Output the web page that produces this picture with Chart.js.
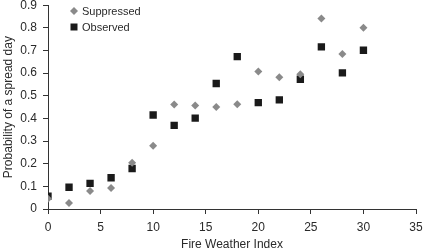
<!DOCTYPE html>
<html>
<head>
<meta charset="utf-8">
<script src="https://cdn.jsdelivr.net/npm/chart.js@4/dist/chart.umd.min.js"></script>
<style>
html,body{margin:0;padding:0;background:#fff;}
#wrap{width:424px;height:251px;position:relative;}
</style>
</head>
<body>
<div id="wrap"><canvas id="c" width="424" height="251"></canvas></div>
<script>
const fwi = [0, 2, 4, 6, 8, 10, 12, 14, 16, 18, 20, 22, 24, 26, 28, 30];
const suppressed = [0.045, 0.026, 0.079, 0.093, 0.204, 0.279, 0.462, 0.457, 0.450, 0.463, 0.607, 0.582, 0.595, 0.841, 0.685, 0.800];
const observed = [0.057, 0.096, 0.113, 0.138, 0.179, 0.415, 0.369, 0.401, 0.554, 0.673, 0.470, 0.482, 0.573, 0.716, 0.601, 0.701];
const seriesNames = ["Suppressed", "Observed"];
const xTitle = "Fire Weather Index";
const yTitle = "Probability of a spread day";

const FONT = "'Liberation Sans', Arial, sans-serif";
const AXIS = "#333333";
const TXT = "#2a2a2a";

const legendPlugin = {
  id: 'insideLegend',
  afterDraw(chart) {
    const ctx = chart.ctx;
    ctx.save();
    ctx.font = "11px " + FONT;
    ctx.textBaseline = "middle";
    ctx.textAlign = "left";
    chart.data.datasets.forEach((ds, i) => {
      const x = 74, y = 11 + i * 16;
      ctx.fillStyle = ds.backgroundColor;
      ctx.beginPath();
      if (ds.pointStyle === 'rectRot') {
        const r = 4;
        ctx.moveTo(x, y - r); ctx.lineTo(x + r, y); ctx.lineTo(x, y + r); ctx.lineTo(x - r, y);
        ctx.closePath();
      } else {
        ctx.rect(x - 3.5, y - 3.5, 7, 7);
      }
      ctx.fill();
      ctx.fillStyle = TXT;
      ctx.fillText(ds.label, 82, y + 0.5);
    });
    ctx.restore();
  }
};

new Chart(document.getElementById('c'), {
  type: 'scatter',
  data: {
    datasets: [
      {
        label: seriesNames[0],
        data: fwi.map((x, i) => ({x: x, y: suppressed[i]})),
        pointStyle: 'rectRot',
        pointRadius: 4,
        backgroundColor: '#8a8a8a',
        borderColor: '#8a8a8a',
        borderWidth: 0
      },
      {
        label: seriesNames[1],
        data: fwi.map((x, i) => ({x: x, y: observed[i]})),
        pointStyle: 'rect',
        pointRadius: 5.2,
        backgroundColor: '#1a1a1a',
        borderColor: '#1a1a1a',
        borderWidth: 0
      }
    ]
  },
  options: {
    responsive: false,
    animation: false,
    devicePixelRatio: 1,
    layout: { padding: { left: 0, right: 8, top: 5, bottom: 0 } },
    plugins: { legend: { display: false }, tooltip: { enabled: false } },
    scales: {
      x: {
        type: 'linear',
        min: 0, max: 35,
        ticks: { stepSize: 5, color: TXT, font: { family: FONT, size: 12 }, padding: 6, maxRotation: 0 },
        grid: { display: true, drawOnChartArea: false, drawTicks: true, tickLength: 5, color: AXIS, lineWidth: 1 },
        border: { display: true, color: AXIS, width: 1 },
        title: { display: true, text: xTitle, color: TXT, font: { family: FONT, size: 12, lineHeight: 1 }, padding: { top: 4, bottom: 0 } },
        afterFit(scale) { scale.height = 42; scale.paddingLeft = 0; scale.paddingRight = 0; scale.paddingTop = 0; scale.paddingBottom = 0; }
      },
      y: {
        type: 'linear',
        min: 0, max: 0.9,
        ticks: { stepSize: 0.1, color: TXT, font: { family: FONT, size: 12 }, padding: 6,
          callback: v => (Math.round(v * 10) / 10 === 0 ? '0' : (Math.round(v * 10) / 10).toFixed(1)) },
        grid: { display: true, drawOnChartArea: false, drawTicks: true, tickLength: 5, color: AXIS, lineWidth: 1 },
        border: { display: true, color: AXIS, width: 1 },
        title: { display: true, text: yTitle, color: TXT, font: { family: FONT, size: 12 }, padding: { top: 1, bottom: 0 } },
        afterFit(scale) { scale.width = 48; scale.paddingLeft = 0; scale.paddingRight = 0; scale.paddingTop = 0; scale.paddingBottom = 0; }
      }
    }
  },
  plugins: [legendPlugin]
});
</script>
</body>
</html>
